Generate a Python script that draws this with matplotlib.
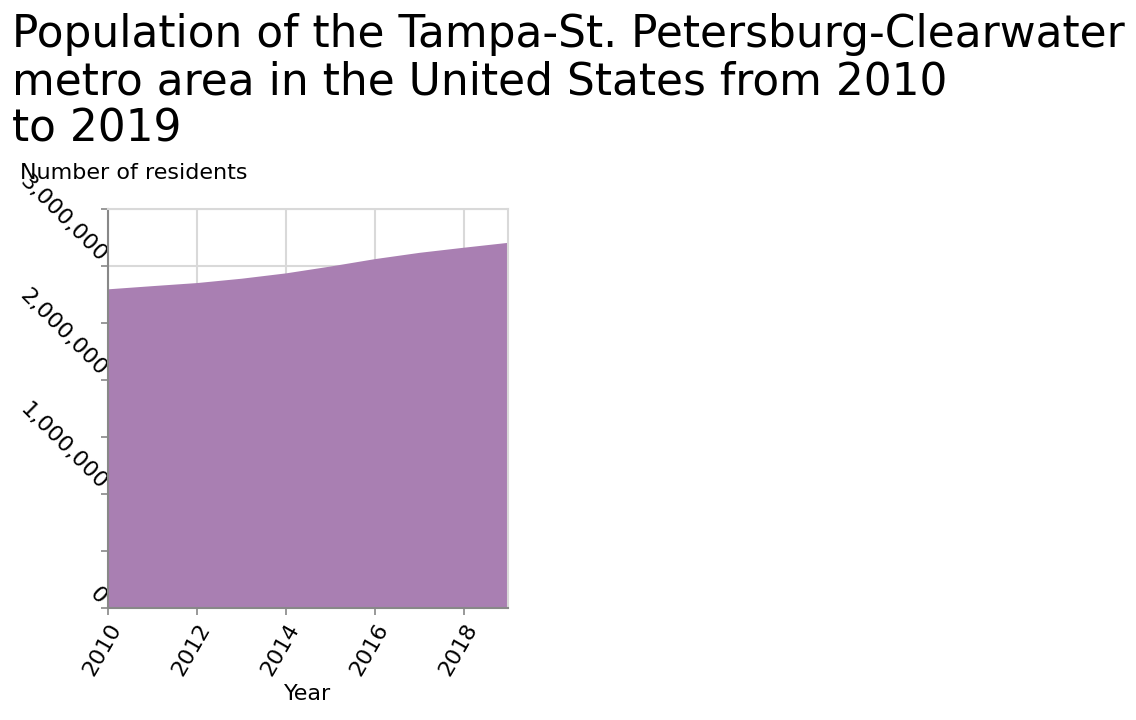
import matplotlib.pyplot as plt
from matplotlib.ticker import FuncFormatter, MultipleLocator

years = [2010, 2011, 2012, 2013, 2014, 2015, 2016, 2017, 2018, 2019]
residents = [2800000, 2828000, 2855000, 2893000, 2940000, 3000000, 3065000, 3120000, 3165000, 3208000]
x_ticks = [2010, 2012, 2014, 2016, 2018]

fig = plt.figure(figsize=(11.36, 7.2), dpi=100)
ax = fig.add_axes([0.0951, 0.1556, 0.3521, 0.5541])

grid_col = '#d9d9d9'
ax.set_axisbelow(True)
ax.grid(True, color=grid_col, linewidth=1.5)
ax.fill_between(years, residents, 0, color='#a97fb2', linewidth=0, zorder=2)

ax.set_xlim(2010, 2019)
ax.set_ylim(0, 3500000)
ax.set_xticks(x_ticks)
ax.yaxis.set_major_locator(MultipleLocator(500000))
ax.yaxis.set_major_formatter(FuncFormatter(
    lambda v, p: f'{int(v):,}' if v % 1000000 == 0 else ''))

for s in ['top', 'right']:
    ax.spines[s].set_color(grid_col)
    ax.spines[s].set_linewidth(1.5)
for s in ['left', 'bottom']:
    ax.spines[s].set_color('#888888')
    ax.spines[s].set_linewidth(1.5)
ax.tick_params(axis='both', color='#888888', width=1.2, length=5, labelsize=16)
plt.setp(ax.get_xticklabels(), rotation=60, ha='right', rotation_mode='anchor')
plt.setp(ax.get_yticklabels(), rotation=-45, ha='right', va='bottom', rotation_mode='anchor')

ax.set_xlabel('Year', fontsize=16, labelpad=4)
fig.text(0.018, 0.752, 'Number of residents', fontsize=16)
fig.text(0.011, 0.982,
         'Population of the Tampa-St. Petersburg-Clearwater\n'
         'metro area in the United States from 2010\nto 2019',
         fontsize=31.6, linespacing=1.13, va='top')

fig.savefig('out.png', dpi=100)
